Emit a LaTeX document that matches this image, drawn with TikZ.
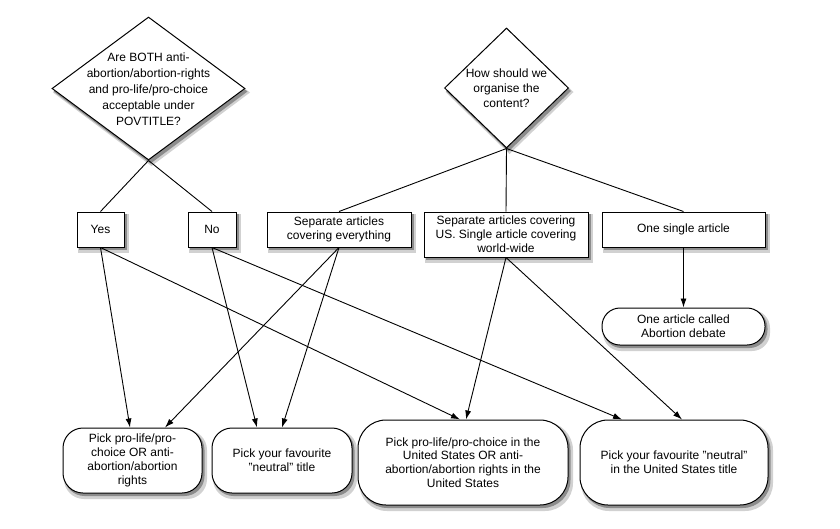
\documentclass[tikz,border=0pt]{standalone}
\usepackage{fontspec}
\setmainfont{Liberation Sans}
\usetikzlibrary{shapes.geometric,arrows.meta,calc,backgrounds}
\begin{document}
\begin{tikzpicture}[x=1pt,y=-1pt,
  base/.style={draw=black,line width=1pt,fill=white,inner sep=0pt,align=center,
    font=\fontsize{12}{13.8}\selectfont},
  dia/.style={base,shape=diamond},
  box/.style={base,rectangle},
  pill/.style={base,rectangle},
  txt/.style={inner sep=0pt,align=center},
  link/.style={line width=0.9pt,draw=black},
  arr/.style={link,-{Latex[length=9pt,width=6pt]}},
  softshade/.style={fill=black!18},
  hardshade/.style={fill=black!45}
]
\useasboundingbox (0,0) rectangle (840,528);

% drop shadows (drawn first, under the shapes)
\fill[white] (0,0) rectangle (840,528);
\foreach \cx/\cy/\w/\h/\r in {100.5/229.5/47/35/0, 212/229.5/48/35/0, 339/229.5/144/35/0, 506/234.5/164/45/0, 683.5/229.5/163/35/0, 683.5/326.5/163/37/18, 132.5/460.5/139/65/20, 282/460.5/140/65/20, 463/462.5/210/85/28, 674/462.5/188/85/28} {
  \fill[softshade,rounded corners=\r pt] (\cx-\w/2+1,\cy-\h/2+2) rectangle (\cx+\w/2+5,\cy+\h/2+6);
  \fill[hardshade,rounded corners=\r pt] (\cx-\w/2+1.5,\cy-\h/2+2) rectangle (\cx+\w/2+2.5,\cy+\h/2+3);
}
\foreach \cx/\cy/\w/\h in {148.5/88.5/193/143, 506.5/88/124/120} {
  \fill[softshade] (\cx+2,\cy-\h/2+2) -- (\cx+\w/2+5,\cy+4) -- (\cx+3,\cy+\h/2+6) -- (\cx-\w/2+1,\cy+4) -- cycle;
  \fill[hardshade] (\cx+2,\cy-\h/2+2) -- (\cx+\w/2+2.5,\cy+3) -- (\cx+2,\cy+\h/2+3.5) -- (\cx-\w/2+1.5,\cy+3) -- cycle;
}

% decision diamonds
\node[dia,minimum width=193pt,minimum height=143pt] (d1) at (148.5,88.5) {};
\node[txt,font=\fontsize{12}{16}\selectfont] (d1t) at (148.5,89) {Are BOTH anti-\\abortion/abortion-rights\\and pro-life/pro-choice\\acceptable under\\POVTITLE?};
\node[dia,minimum width=124pt,minimum height=120pt] (d2) at (506.5,88) {};
\node[txt,font=\fontsize{12}{15}\selectfont] (d2t) at (506.5,88) {How should we\\organise the\\content?};

% rectangles
\node[box,minimum width=47pt,minimum height=35pt] (yes) at (100.5,229.5) {Yes};
\node[box,minimum width=48pt,minimum height=35pt] (no) at (212,229.5) {No};
\node[box,minimum width=144pt,minimum height=35pt] (sepE) at (339,229.5) {Separate articles\\covering everything};
\node[box,minimum width=164pt,minimum height=45pt] (sepUS) at (506,234.5) {Separate articles covering\\US. Single article covering\\world-wide};
\node[box,minimum width=163pt,minimum height=35pt] (one) at (683.5,229.5) {One single article};

% rounded terminals
\node[pill,rounded corners=18pt,minimum width=163pt,minimum height=37pt] (called) at (683.5,326.5) {One article called\\Abortion debate};
\node[pill,rounded corners=20pt,minimum width=139pt,minimum height=65pt] (A) at (132.5,460.5) {Pick pro-life/pro-\\choice OR anti-\\abortion/abortion\\rights};
\node[pill,rounded corners=20pt,minimum width=140pt,minimum height=65pt] (B) at (282,460.5) {Pick your favourite\\"neutral" title};
\node[pill,rounded corners=28pt,minimum width=210pt,minimum height=85pt] (C) at (463,462.5) {Pick pro-life/pro-choice in the\\United States OR anti-\\abortion/abortion rights in the\\United States};
\node[pill,rounded corners=28pt,minimum width=188pt,minimum height=85pt] (D) at (674,462.5) {Pick your favourite "neutral"\\in the United States title};

% plain connectors
\draw[link] (d1.south) -- (yes.north);
\draw[link] (d1.south) -- (no.north);
\draw[link] (d2.south) -- (sepE.north);
\draw[link] (d2.south) -- (sepUS.north);
\draw[link] (d2.south) -- (one.north);

% arrows
\draw[arr] (one.south) -- (called.north);
\draw[arr] (yes.south) -- ($(A.north)+(-2.5,0)$);
\draw[arr] (yes.south) -- ($(C.north)+(-3,0)$);
\draw[arr] (no.south) -- ($(B.north)+(-25,0)$);
\draw[arr] (no.south) -- ($(D.north)+(-52,0)$);
\draw[arr] (sepE.south) -- ($(A.north)+(32.5,0)$);
\draw[arr] (sepE.south) -- (B.north);
\draw[arr] (sepUS.south) -- ($(C.north)+(3,0)$);
\draw[arr] (sepUS.south) -- ($(D.north)+(8,0)$);
\end{tikzpicture}
\end{document}
